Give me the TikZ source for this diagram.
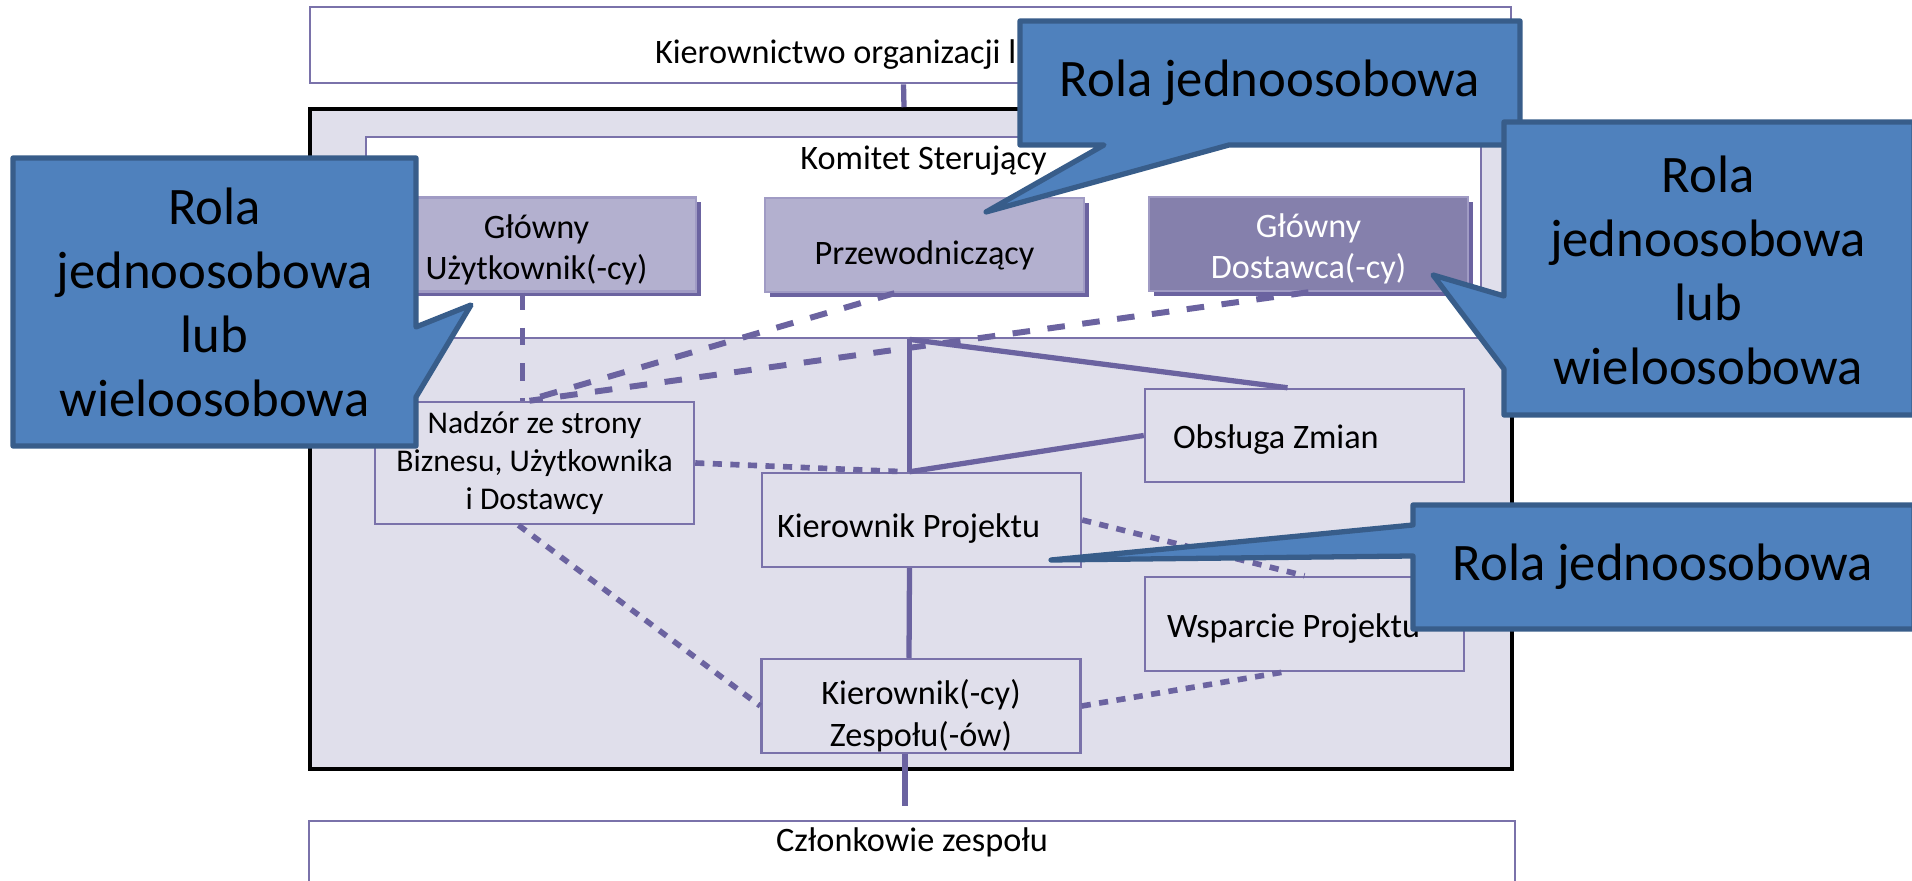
\documentclass[tikz,border=0pt]{standalone}
\usepackage{fontspec}
\setmainfont{Carlito}
\usepackage{tikz}
\usetikzlibrary{shadows}
\definecolor{linecolor}{RGB}{107, 99, 160}
\definecolor{boxline}{RGB}{122, 114, 170}
\definecolor{panelcolor}{RGB}{224, 223, 235}
\definecolor{rolelight}{RGB}{179, 176, 207}
\definecolor{roledark}{RGB}{133, 128, 172}
\definecolor{roleedge}{RGB}{160, 155, 196}
\definecolor{calloutfill}{RGB}{79, 129, 189}
\definecolor{calloutedge}{RGB}{56, 93, 138}

\begin{document}
\begin{tikzpicture}[x=0.1mm, y=-0.1mm,
    txt/.style={font=\fontsize{9.75}{11.6}\selectfont, align=center},
    widebox/.style={draw=boxline, line width=0.8pt, fill=white, minimum width=120.1mm, inner sep=0pt},
    unitbox/.style={txt, draw=boxline, line width=0.7pt, fill=panelcolor, minimum width=31.9mm, minimum height=9.4mm, inner sep=0pt},
    rolebox/.style={unitbox, draw=roleedge, fill=rolelight, drop shadow={shadow xshift=0.5mm, shadow yshift=-0.5mm, fill=linecolor, opacity=1}},
    solidline/.style={linecolor, line width=1.5pt},
    dashline/.style={linecolor, line width=1.7pt, dash pattern=on 5pt off 5pt},
    dotline/.style={linecolor, line width=1.6pt, dash pattern=on 2.6pt off 2.4pt},
    callout/.style={fill=calloutfill, draw=calloutedge, line width=1.5pt, line join=round},
    calltext/.style={font=\fontsize{15}{18.2}\selectfont, align=center}]

    \useasboundingbox (0,0) rectangle (1912,881);
    \clip (0,0) rectangle (1912,881);

    % ramki zewnetrzne
    \node[widebox, txt, minimum height=7.6mm, text width=51.1mm, align=flush left, inner xsep=34.5mm] (zarzad) at (910.5,45) {\rule{0pt}{12.4pt}Kierownictwo organizacji l};
    \node[draw=black, line width=1pt, fill=panelcolor, minimum width=120.2mm, minimum height=66mm, inner sep=0pt] (projekt) at (911,439) {};
    \node[draw=boxline, line width=0.8pt, fill=white, minimum width=111.5mm, minimum height=20.1mm, inner sep=0pt,
          label={[txt, anchor=center, yshift=-2.5mm]north:Komitet Sterujący}] (komitet) at (923.5,237.5) {};
    \node[widebox, minimum width=120.6mm, minimum height=6.3mm,
          label={[txt, anchor=center, yshift=-2.3mm]north:Członkowie zespołu}] (zespol) at (912,852.5) {};

    % komitet
    \node[rolebox] (uzytkownik) at (536.5,244.5) {\rule{0pt}{9.7pt}Główny\\Użytkownik(-cy)};
    \node[rolebox] (przewodniczacy) at (924.5,245) {\rule{0pt}{12.4pt}Przewodniczący};
    \node[rolebox, fill=roledark, text=white] (dostawca) at (1308.5,244) {\rule{0pt}{9.7pt}Główny\\Dostawca(-cy)};

    % zespol zarzadzania projektem
    \node[unitbox, minimum height=12.2mm, font=\fontsize{9}{10.8}\selectfont] (nadzor) at (534.5,463) {Nadzór ze strony\\Biznesu, Użytkownika\\i Dostawcy};
    \node[unitbox, minimum height=9.3mm, text width=26.3mm, align=flush left, inner xsep=2.8mm] (zmiany) at (1304.5,435.5) {\rule{0pt}{8.8pt}Obsługa Zmian};
    \node[unitbox, text width=28.9mm, align=flush left, inner xsep=1.5mm] (kierownik) at (921.5,520) {\rule{0pt}{11.6pt}Kierownik Projektu};
    \node[unitbox, text width=27.5mm, align=flush left, inner xsep=2.2mm] (wsparcie) at (1304.5,624) {\rule{0pt}{9.6pt}Wsparcie Projektu};
    \node[unitbox, font=\fontsize{9.75}{11.95}\selectfont] (zespoly) at (921,706) {\rule{0pt}{11pt}Kierownik(-cy)\\\raisebox{0pt}[\height][0pt]{Zespołu(-ów)}};

    % linie ciagle
    \coordinate (rozgalezienie) at ([xshift=-1.2mm]kierownik.north |- komitet.south);
    \draw[solidline] ([xshift=-0.7mm]zarzad.south) -- ([xshift=-0.7mm]projekt.north);
    \draw[solidline] (rozgalezienie) -- ([xshift=-1.2mm]kierownik.north);
    \draw[solidline] (rozgalezienie) -- ([xshift=-1.7mm]zmiany.north);
    \draw[solidline] ([xshift=-1.2mm]kierownik.north) -- (zmiany.west);
    \draw[solidline] ([xshift=-1.2mm]kierownik.south) -- ([xshift=-1.2mm]zespoly.north);
    \draw[solidline, shorten >=1.4mm] ([xshift=-1.6mm]zespoly.south) -- ([xshift=-1.6mm]zespoly.south |- zespol.north);

    % linie przerywane
    \draw[dashline] ([xshift=-1.2mm]nadzor.north |- uzytkownik.south) -- ([xshift=-1.2mm]nadzor.north);
    \draw[dashline] ([xshift=-3mm]przewodniczacy.south) -- ([xshift=-0.8mm]nadzor.north);
    \draw[dashline] (dostawca.south) -- ([xshift=-0.5mm]nadzor.north);

    % linie kropkowane
    \draw[dotline] (nadzor.east) -- ([xshift=-1.6mm]kierownik.north);
    \draw[dotline] (kierownik.east) -- (wsparcie.north);
    \draw[dotline] ([xshift=-1.6mm]nadzor.south) -- (zespoly.west);
    \draw[dotline] (zespoly.east) -- ([xshift=-2.2mm]wsparcie.south);

    % dymki
    \draw[callout] (13,158) -- (416,158) -- (416,327) -- (471,305) -- (416,397) -- (416,446) -- (13,446) -- cycle;
    \node[calltext] (dymek1) at (214.5,302) {Rola\\jednoosobowa\\lub\\wieloosobowa};
    \draw[callout] (1020,21) -- (1520,21) -- (1520,145) -- (1229,145) -- (986,212) -- (1104,145) -- (1020,145) -- cycle;
    \node[calltext] (dymek2) at (1270,83) {Rola jednoosobowa};
    \draw[callout] (1504,122) -- (1914,122) -- (1914,415) -- (1504,415) -- (1504,369) -- (1433,275) -- (1504,296) -- cycle;
    \node[calltext] (dymek3) at (1708,270) {Rola\\jednoosobowa\\lub\\wieloosobowa};
    \draw[callout] (1413,505) -- (1914,505) -- (1914,629) -- (1413,629) -- (1413,556) -- (1051,560) -- (1413,525) -- cycle;
    \node[calltext] (dymek4) at (1663,567) {Rola jednoosobowa};
\end{tikzpicture}
\end{document}
